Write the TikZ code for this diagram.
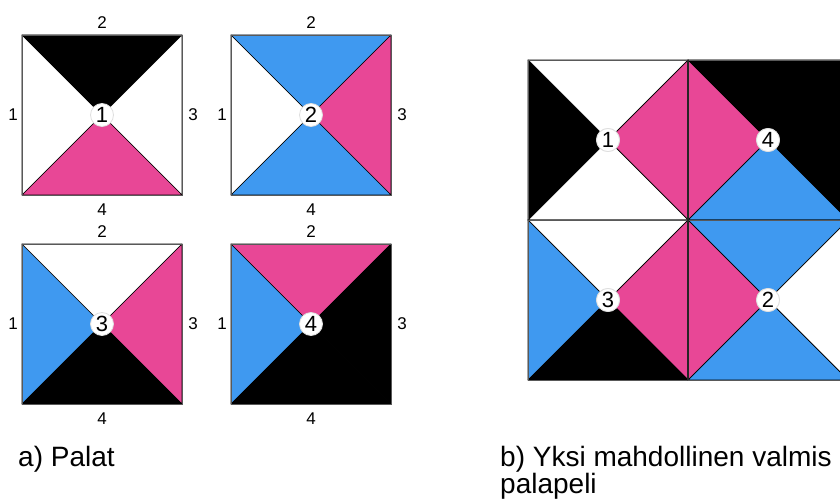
\documentclass[tikz,border=0pt]{standalone}
\usepackage{fontspec}
\setmainfont{Liberation Sans}

\definecolor{pinkki}{HTML}{E84796}
\definecolor{sininen}{HTML}{3F99F0}

\tikzset{
  kolmio/.style={draw=black, line width=0.7pt, line join=round},
  reuna/.style={draw=black!65, line width=0.9pt},
  nro/.style={circle, fill=white, draw=gray!25, line width=0.8pt, inner sep=0pt,
    minimum size=23pt, font=\fontsize{22}{22}\selectfont},
  sivu/.style={inner sep=0pt, font=\fontsize{17}{17}\selectfont},
  otsikko/.style={inner sep=0pt, anchor=base west, font=\fontsize{28}{28}\selectfont}
}

% pala: #1 paikka, #2 nimi, #3 vasen, #4 yla, #5 oikea, #6 ala, #7 numero
\newcommand{\pala}[7]{%
  \begin{scope}[shift={#1}]
    \coordinate (#2-nw) at (0,0);
    \coordinate (#2-ne) at (160,0);
    \coordinate (#2-se) at (160,160);
    \coordinate (#2-sw) at (0,160);
    \coordinate (#2-c) at (80,80);
    \filldraw[kolmio, fill=#3] (#2-nw) -- (#2-c) -- (#2-sw) -- cycle;
    \filldraw[kolmio, fill=#4] (#2-nw) -- (#2-ne) -- (#2-c) -- cycle;
    \filldraw[kolmio, fill=#5] (#2-ne) -- (#2-se) -- (#2-c) -- cycle;
    \filldraw[kolmio, fill=#6] (#2-sw) -- (#2-se) -- (#2-c) -- cycle;
    \draw[reuna] (#2-nw) rectangle (#2-se);
    \node[nro] (#2) at (#2-c) {#7};
  \end{scope}}

% sivujen numerot: #1 paikka, #2 nimi
\newcommand{\sivut}[2]{%
  \begin{scope}[shift={#1}]
    \node[sivu] (#2-s1) at (-9,80) {1};
    \node[sivu] (#2-s2) at (80,-12) {2};
    \node[sivu] (#2-s3) at (171,80) {3};
    \node[sivu] (#2-s4) at (80,175) {4};
  \end{scope}}

\begin{document}
\begin{tikzpicture}[x=1pt, y=-1pt]
    \useasboundingbox (0,0) rectangle (840,500);

    % a) Palat
    \pala{(22,35)}{p1}{white}{black}{white}{pinkki}{1}
    \sivut{(22,35)}{p1}
    \pala{(231,35)}{p2}{white}{sininen}{pinkki}{sininen}{2}
    \sivut{(231,35)}{p2}
    \pala{(22,244)}{p3}{sininen}{white}{pinkki}{black}{3}
    \sivut{(22,244)}{p3}
    \pala{(231,244)}{p4}{sininen}{pinkki}{black}{black}{4}
    \sivut{(231,244)}{p4}

    % b) valmis palapeli, oikea reuna leikataan pois
    \begin{scope}
        \clip (0,0) rectangle (840,500);
        \pala{(528,60)}{v1}{black}{white}{pinkki}{white}{1}
        \pala{(688,60)}{v4}{pinkki}{black}{black}{sininen}{4}
        \pala{(528,220)}{v3}{sininen}{white}{pinkki}{black}{3}
        \pala{(688,220)}{v2}{pinkki}{sininen}{white}{sininen}{2}
        \draw[black!85, line width=1.4pt] (v4-nw) -- (v2-sw);
        \node[nro] at (v1) {1};
        \node[nro] at (v4) {4};
        \node[nro] at (v3) {3};
        \node[nro] at (v2) {2};
    \end{scope}

    % otsikot
    \node[otsikko] (ota) at (18,466) {a) Palat};
    \node[otsikko] (otb1) at (500,466) {b) Yksi mahdollinen valmis};
    \node[otsikko] (otb2) at (500,493) {palapeli};
\end{tikzpicture}
\end{document}
